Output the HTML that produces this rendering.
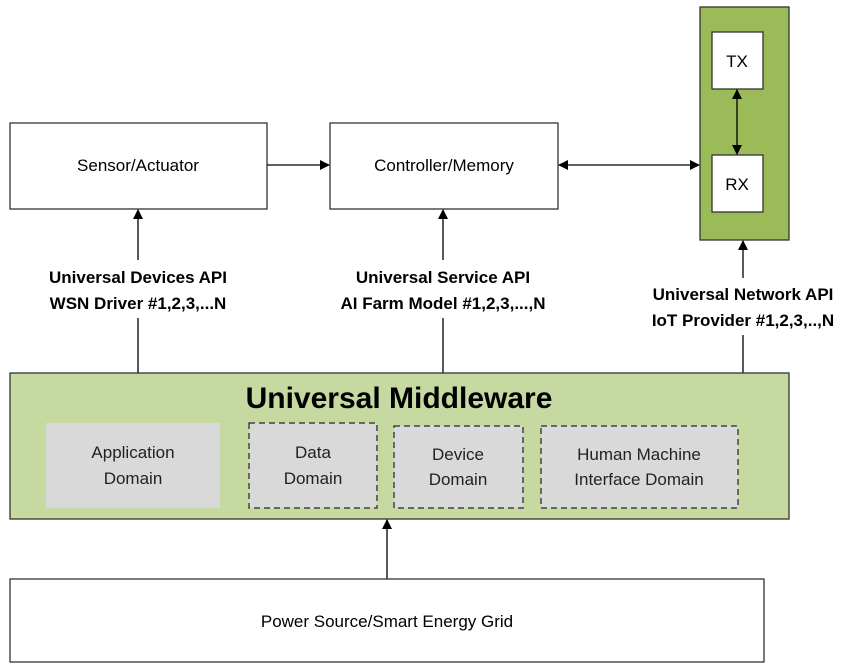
<!DOCTYPE html>
<html><head><meta charset="utf-8"><style>
body{margin:0;background:#fff;width:866px;height:667px;overflow:hidden}
svg text{font-family:"Liberation Sans",sans-serif}
</style></head><body>
<svg width="866" height="667" xmlns="http://www.w3.org/2000/svg">
<defs><marker id="a" markerWidth="10" markerHeight="10" refX="9" refY="5" orient="auto-start-reverse" markerUnits="userSpaceOnUse"><path d="M0,0 L10,5 L0,10 z" fill="#000"/></marker></defs>
<rect x="10" y="123" width="257" height="86" fill="#fff" stroke="#333" stroke-width="1.3"/>
<text x="138" y="171" font-size="17" text-anchor="middle">Sensor/Actuator</text>
<rect x="330" y="123" width="228" height="86" fill="#fff" stroke="#333" stroke-width="1.3"/>
<text x="444" y="171" font-size="17" text-anchor="middle">Controller/Memory</text>
<line x1="267" y1="165" x2="329" y2="165" stroke="#000" stroke-width="1.3" marker-end="url(#a)"/>
<line x1="559" y1="165" x2="699" y2="165" stroke="#000" stroke-width="1.3" marker-start="url(#a)" marker-end="url(#a)"/>
<rect x="700" y="7" width="89" height="233" fill="#9bbb59" stroke="#333" stroke-width="1.3"/>
<rect x="712" y="32" width="51" height="57" fill="#fff" stroke="#333" stroke-width="1.3"/>
<text x="737" y="67" font-size="17" text-anchor="middle">TX</text>
<rect x="712" y="155" width="51" height="57" fill="#fff" stroke="#333" stroke-width="1.3"/>
<text x="737" y="190" font-size="17" text-anchor="middle">RX</text>
<line x1="737" y1="90" x2="737" y2="154" stroke="#000" stroke-width="1.3" marker-start="url(#a)" marker-end="url(#a)"/>
<line x1="138" y1="260" x2="138" y2="210" stroke="#000" stroke-width="1.3" marker-end="url(#a)"/>
<line x1="138" y1="318" x2="138" y2="373" stroke="#000" stroke-width="1.3"/>
<line x1="443" y1="260" x2="443" y2="210" stroke="#000" stroke-width="1.3" marker-end="url(#a)"/>
<line x1="443" y1="318" x2="443" y2="373" stroke="#000" stroke-width="1.3"/>
<line x1="743" y1="278" x2="743" y2="241" stroke="#000" stroke-width="1.3" marker-end="url(#a)"/>
<line x1="743" y1="335" x2="743" y2="373" stroke="#000" stroke-width="1.3"/>
<g font-size="17" font-weight="bold" text-anchor="middle">
<text x="138" y="283">Universal Devices API</text>
<text x="138" y="309">WSN Driver #1,2,3,...N</text>
<text x="443" y="283">Universal Service API</text>
<text x="443" y="309">AI Farm Model #1,2,3,...,N</text>
<text x="743" y="300">Universal Network API</text>
<text x="743" y="326">IoT Provider #1,2,3,..,N</text>
</g>
<rect x="10" y="373" width="779" height="146" fill="#c5d9a0" stroke="#333" stroke-width="1.3"/>
<text x="399" y="408" font-size="30" font-weight="bold" text-anchor="middle">Universal Middleware</text>
<rect x="46" y="423" width="174" height="85" fill="#d9d9d9"/>
<rect x="249" y="423" width="128" height="85" fill="#d9d9d9" stroke="#444" stroke-width="1.5" stroke-dasharray="6,4"/>
<rect x="394" y="426" width="129" height="82" fill="#d9d9d9" stroke="#444" stroke-width="1.5" stroke-dasharray="6,4"/>
<rect x="541" y="426" width="197" height="82" fill="#d9d9d9" stroke="#444" stroke-width="1.5" stroke-dasharray="6,4"/>
<g font-size="17" text-anchor="middle" fill="#222">
<text x="133" y="458">Application</text><text x="133" y="484">Domain</text>
<text x="313" y="458">Data</text><text x="313" y="484">Domain</text>
<text x="458" y="460">Device</text><text x="458" y="485">Domain</text>
<text x="639" y="460">Human Machine</text><text x="639" y="485">Interface Domain</text>
</g>
<line x1="387" y1="579" x2="387" y2="520" stroke="#000" stroke-width="1.3" marker-end="url(#a)"/>
<rect x="10" y="579" width="754" height="83" fill="#fff" stroke="#333" stroke-width="1.3"/>
<text x="387" y="627" font-size="17" text-anchor="middle">Power Source/Smart Energy Grid</text>
</svg>
</body></html>
